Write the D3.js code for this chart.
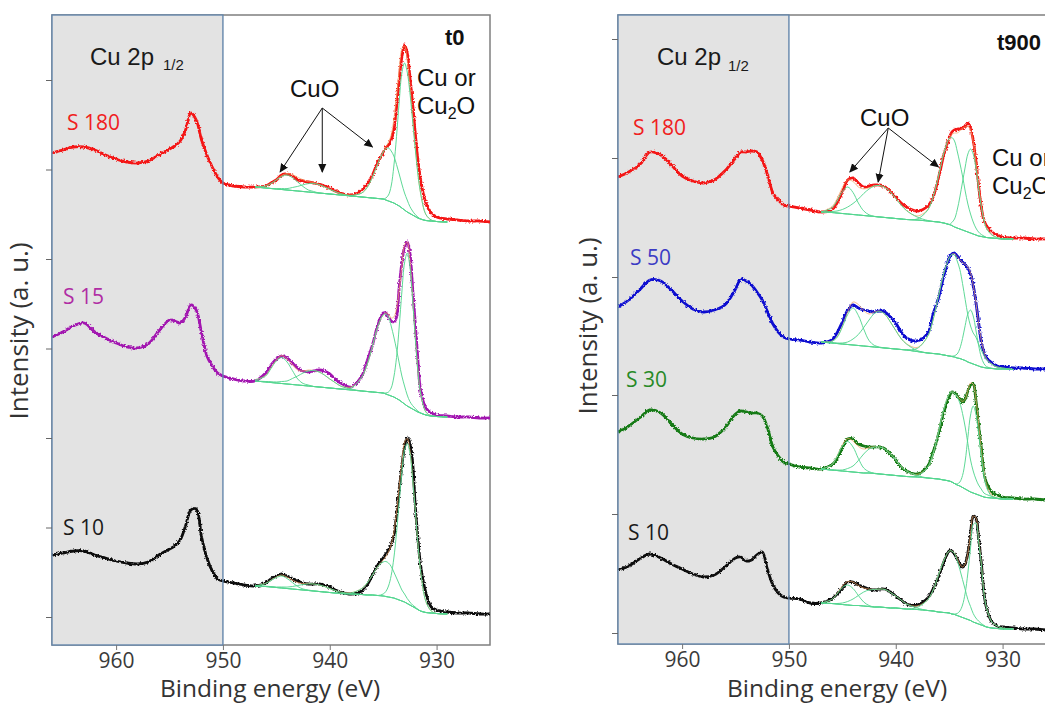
<!DOCTYPE html>
<html><head><meta charset="utf-8">
<script src="https://cdn.jsdelivr.net/npm/d3@7"></script>
<style>body{margin:0;background:#fff}svg{display:block}</style>
</head><body>
<svg id="c" width="1045" height="704"></svg>
<script>
// ---------- energies (eV) ----------
const energies = [966,965,964,963,962,961,960,959,958,957,956,955,954.5,954,953.5,953,952.5,952,951.5,951,950.5,950,949,948,947,946,945.5,945,944.5,944,943.5,943,942.5,942,941.5,941,940.5,940,939.5,939,938,937,936.5,936,935.5,935,934.75,934.5,934.25,934,933.75,933.5,933.25,933,932.75,932.5,932.25,932,931.75,931.5,931,930.5,930,929,928,927,926,925];
const compEnergies = [947,946,945.5,945,944.5,944,943.5,943,942.5,942,941.5,941,940.5,940,939.5,939,938,937,936.5,936,935.5,935,934.75,934.5,934.25,934,933.75,933.5,933.25,933,932.75,932.5,932.25,932,931.75,931.5,931,930.5,930,929];
const energyTicks = [960, 950, 940, 930];
const t0Ticks = [0, 89.5, 179, 268.5, 358, 447.5, 537];
const t900Ticks = [0, 119, 238, 356, 475, 594];

// ---------- measured spectra (a.u., vertically offset) ----------
const t0_S180 = [464,467,470,470,467,462,458,455,454,456,462,468,471,476,487,504,497,477,462,450,440,434,431,430,430,431,434,437,442,443,441,437,436,435,434,433,431,429,426,424,422,427,433,442,455,464,470,472,477,487,510,537,560,572,564,540,514,484,457,437,414,404,400,398,397,396,396,395];
const t0_S15 = [280,285,291,294,285,279,274,270,269,273,286,297,296,294,300,312,307,284,261,251,244,241,238,236,236,244,252,258,261,259,254,249,246,245,246,247,246,243,238,234,230,241,256,272,292,304,304,300,296,295,300,330,354,370,375,364,330,294,257,227,209,204,202,201,200,200,199,199];
const t0_S10 = [62,64,66,66,62,59,56,54,53,55,62,68,71,77,91,107,108,80,59,46,38,36,34,32,31,34,38,41,43,41,38,36,34,33,33,33,32,30,27,25,23,26,32,42,52,59,63,67,73,81,102,127,151,170,179,174,155,112,79,52,24,10,7,5,4,4,3,3];
const t900_S180 = [456,461,468,481,478,468,457,452,450,453,462,475,481,481,482,481,473,458,440,433,428,427,425,423,421,423,430,441,453,455,450,446,447,448,448,446,441,436,430,426,422,427,436,455,478,495,501,503,504,504,505,507,510,505,493,473,448,426,413,407,401,398,396,395,395,394,394,393];
const t900_S50 = [326,333,343,353,352,343,332,324,321,323,328,344,354,352,348,341,333,321,309,301,296,294,293,291,290,293,300,311,323,328,325,323,322,321,322,321,316,310,301,295,292,300,319,335,357,375,379,380,377,374,371,368,365,359,348,331,311,291,281,275,270,267,266,265,265,264,264,263];
const t900_S30 = [201,207,215,223,220,209,199,195,194,196,205,219,222,221,220,220,217,205,186,177,171,169,166,165,164,168,174,185,194,194,189,187,186,186,186,184,179,173,166,162,159,167,181,199,221,236,241,240,237,234,231,234,242,248,249,233,208,186,161,150,141,138,136,135,134,134,133,133];
const t900_S10 = [63,67,74,79,75,69,64,59,56,58,66,75,76,72,73,78,81,63,48,40,36,35,34,30,30,34,39,45,51,51,48,46,44,43,44,44,41,37,33,29,28,35,44,56,71,82,82,79,74,69,66,69,80,99,117,115,95,71,41,25,11,7,6,5,4,4,3,3];

// ---------- fitted components (on compEnergies) ----------
// t0 S180
const bg_t0_S180 = [430,429,428.5,428,427.5,427,426.5,426,425.5,425,424.5,424,423.5,423,422.5,422,421,420,419.5,419,418.5,418,417,416,415,414,412.5,411,409,407,405,403.5,402,400.5,399,398,396.5,396,395.5,395];
const satA_t0_S180 = [0,2,5,9,13,15,13,9,5,2,1,0,0,0,0,0,0,0,0,0,0,0,0,0,0,0,0,0,0,0,0,0,0,0,0,0,0,0,0,0];
const satB_t0_S180 = [0,0,0,0.3,1,1.4,3,4.6,6.7,8.4,9,8.4,6.7,4.6,3,1.4,0.3,0,0,0,0,0,0,0,0,0,0,0,0,0,0,0,0,0,0,0,0,0,0,0];
const cuo_t0_S180 = [0,0,0,0,0,0,0,0,0,0,0,0,0,0,0,0,0.5,4,10,21,35,47,51,53,51,47,40,32,24,17,12,7,4,2,1,0,0,0,0,0];
const cu_t0_S180 = [0,0,0,0,0,0,0,0,0,0,0,0,0,0,0,0,0,0,0,0,0,0,2,6,16,37,68,104,135,147,140,121,95,68,44,26,6,1,0,0];
// t0 S15
const bg_t0_S15 = [236,235,234.5,234,233.5,233,232.5,232,231.5,231,230.5,230,229.5,229,228.5,228,227,226,225.5,225,224.5,224,223,222,221,220,218.5,217,215,213,211,209.5,208,206.5,205,204,202,201,200.5,200];
const satA_t0_S15 = [1,6,14,22,26,22,14,6,2,1,0,0,0,0,0,0,0,0,0,0,0,0,0,0,0,0,0,0,0,0,0,0,0,0,0,0,0,0,0,0];
const satB_t0_S15 = [0,0.5,0.8,1,2,3,6,9,12.5,15,16,15,12.5,9,6,3,1,0,0,0,0,0,0,0,0,0,0,0,0,0,0,0,0,0,0,0,0,0,0,0];
const cuo_t0_S15 = [0,0,0,0,0,0,0,0,0,0,0,0,0,0,0,0,2,14,27,46,66,78,80,78,70,60,49,37,26,18,11,6,3.5,2,1,0,0,0,0,0];
const cu_t0_S15 = [0,0,0,0,0,0,0,0,0,0,0,0,0,0,0,0,0,0,0,0,0,0,1,3,8,20,41,73,110,141,153,141,110,73,41,20,3,0,0,0];
// t0 S10
const bg_t0_S10 = [31,30.5,30,29.5,29,28.5,28,27.5,27,26.5,26,25.5,25,24.5,24,23.5,23,22.5,22,22,21.5,21,20.5,20,19.5,19,18,17,16,15,13.5,12,10.5,9,7.5,6,4.5,4,3.5,3];
const satA_t0_S10 = [0,3,6.5,10,12,10,6.5,3,1,0.5,0,0,0,0,0,0,0,0,0,0,0,0,0,0,0,0,0,0,0,0,0,0,0,0,0,0,0,0,0,0];
const satB_t0_S10 = [0,0.3,0.4,0.5,1,1.4,2.5,4,5.5,6.6,7,6.6,5.5,4,2.5,1.4,0.3,0,0,0,0,0,0,0,0,0,0,0,0,0,0,0,0,0,0,0,0,0,0,0];
const cuo_t0_S10 = [0,0,0,0,0,0,0,0,0,0,0,0,0,0,0,0,1,6,12,20,29,34,35,34,31,26,21,16,11,8,5,3,1.5,1,0,0,0,0,0,0];
const cu_t0_S10 = [0,0,0,0,0,0,0,0,0,0,0,0,0,0,0,0,0,0,0,0,0,2,5,11,22,40,66,98,128,152,160,152,128,98,66,40,11,2,0,0];
// t900 S180
const bg_t900_S180 = [421,420.5,420,419.5,419,418.5,418,417.5,417,416.5,416,415.5,415,414.5,414,413.5,413,412,411.5,411,410,408.5,407.5,406,405,404,403,402,401,400,399,398,397,396.5,396,395.5,395,394.5,394,394];
const satA_t900_S180 = [0,4.6,12,22,27,22,12,4.6,1.2,0.2,0,0,0,0,0,0,0,0,0,0,0,0,0,0,0,0,0,0,0,0,0,0,0,0,0,0,0,0,0,0];
const satB_t900_S180 = [0,1,2,4,7,11,16,22,27,30.5,31.5,30,26,20,14,9,3,0.5,0,0,0,0,0,0,0,0,0,0,0,0,0,0,0,0,0,0,0,0,0,0];
const cuo_t900_S180 = [0,0,0,0,0,0,0,0,0,0,0,0,0,0,0,0,1,11,25,46,70,86,88,86,77,66,54,40,28,19,12,7,4,2,1,0,0,0,0,0];
const cu_t900_S180 = [0,0,0,0,0,0,0,0,0,0,0,0,0,0,0,0,0,0,0,0,0,0,3,8,18,32,48,64,78,84,80,67,48,30,17,9,3,1,0,0];
// t900 S50
const bg_t900_S50 = [291,290,289.5,289,288.5,288,287.5,287,286.5,286,285.5,285,284.5,284,283.5,283,281.5,280,279.5,279,278,277,276.5,276,275,274.5,273.5,272.5,271,270,269,268,267,266,265.5,265,264.5,264,264,263.5];
const satA_t900_S50 = [0,1.6,6,17,30,37,30,17,6,1.6,0.4,0,0,0,0,0,0,0,0,0,0,0,0,0,0,0,0,0,0,0,0,0,0,0,0,0,0,0,0,0];
const satB_t900_S50 = [0,0.3,0.5,1,2.5,6,11,18.5,26.5,33.5,36,33.5,26.5,18.5,11,6,1,0,0,0,0,0,0,0,0,0,0,0,0,0,0,0,0,0,0,0,0,0,0,0];
const cuo_t900_S50 = [0,0,0,0,0,0,0,0,0,0,0,0,0,0,0,0.3,3,17,34,58,82,98,102,102,97,89,76,61,47,37,31,28,22,17,12,8,4,2,1,0];
const cu_t900_S50 = [0,0,0,0,0,0,0,0,0,0,0,0,0,0,0,0,0,0,0,0,0,0,0.3,1.3,4,10,21,35,48,53,48,35,21,10,4,1.3,0.3,0,0,0];
// t900 S30
const bg_t900_S30 = [164,163,162.5,162,161.5,161,160.5,160,160,159.5,159,158.5,158,157.5,157,156.5,156,155,154.5,154,153,152,151,149.5,148,147,145.5,144,142.5,141,140,139,138,137,136,135.5,135,134.5,134,134];
const satA_t900_S30 = [0,5,14,25,30,25,14,5,1.3,0.3,0,0,0,0,0,0,0,0,0,0,0,0,0,0,0,0,0,0,0,0,0,0,0,0,0,0,0,0,0,0];
const satB_t900_S30 = [0,0,0.5,1,3,6,12,19,24,26.5,27,25.5,21,15.5,9.5,5.5,1.5,0,0,0,0,0,0,0,0,0,0,0,0,0,0,0,0,0,0,0,0,0,0,0];
const cuo_t900_S30 = [0,0,0,0,0,0,0,0,0,0,0,0,0,0,0,0,1,11,25,47,71,87,90,90,88,83,74,62,47,32,22,15,10,7,4,3,1.5,0.5,0,0];
const cu_t900_S30 = [0,0,0,0,0,0,0,0,0,0,0,0,0,0,0,0,0,0,0,0,0,0,0,0,1,4,12,28,53,77,87,80,62,40,22,10,1.5,0,0,0];
// t900 S10
const bg_t900_S10 = [30,29.5,29,28.5,28,27.5,27.5,27,26.5,26,26,25.5,25,25,24.5,24,23.5,22.5,22,21,20.5,20,19,18.5,17.5,16.5,15.5,14.5,13.5,12.5,11,10,9,8,7,6,5,4.5,4,4];
const satA_t900_S10 = [0,4,10,17,20,17,10,4,1,0,0,0,0,0,0,0,0,0,0,0,0,0,0,0,0,0,0,0,0,0,0,0,0,0,0,0,0,0,0,0];
const satB_t900_S10 = [0,0,0.5,1.5,3.5,6.5,10,14,16.5,17.5,18,18,15.5,12,8.5,5,1.5,0,0,0,0,0,0,0,0,0,0,0,0,0,0,0,0,0,0,0,0,0,0,0];
const cuo_t900_S10 = [0,0,0,0,0,0,0,0,0,0,0,0,0,0,0,0,2,11,21,37,52,62,63,61,55,47,38,29,20,14,8.5,5,3,1.5,0.7,0,0,0,0,0];
const cu_t900_S10 = [0,0,0,0,0,0,0,0,0,0,0,0,0,0,0,0,0,0,0,0,0,0,0,0.5,2,5.5,12.5,25.5,46.5,72.5,97.5,100,83,61.5,33,19,6,2.5,1,0];

// ---------- build ----------
const svg = d3.select("#c");
const defs = svg.append("defs");
const filt = defs.append("filter").attr("id","rough").attr("x","-5%").attr("y","-5%").attr("width","110%").attr("height","110%");
filt.append("feTurbulence").attr("type","fractalNoise").attr("baseFrequency","0.55").attr("numOctaves",2).attr("seed",7).attr("result","n");
filt.append("feDisplacementMap").attr("in","SourceGraphic").attr("in2","n").attr("scale",3.4).attr("xChannelSelector","R").attr("yChannelSelector","G");
defs.append("marker").attr("id","arr").attr("viewBox","0 0 10 10").attr("refX",9).attr("refY",5)
  .attr("markerWidth",9).attr("markerHeight",9).attr("markerUnits","userSpaceOnUse").attr("orient","auto")
  .append("path").attr("d","M0,0.5 L10,5 L0,9.5 Z").attr("fill","#111");

const panels = [
  { id:"t0", x0:52, x1:490, top:15, bottom:645, yDomain:[-28,602], ticks:t0Ticks, yTitleX:28, yTitleY:331,
    tag:"t0", tagX:445, tagY:45,
    series:[
      {v:t0_S180, c:"#f41414", lc:"#f02020", label:"S 180", lx:67, ly:130, fit:[bg_t0_S180,satA_t0_S180,satB_t0_S180,cuo_t0_S180,cu_t0_S180]},
      {v:t0_S15, c:"#a214b0", lc:"#b02ca4", label:"S 15", lx:63, ly:304, fit:[bg_t0_S15,satA_t0_S15,satB_t0_S15,cuo_t0_S15,cu_t0_S15]},
      {v:t0_S10, c:"#0a0a0a", lc:"#1a1a1a", label:"S 10", lx:63, ly:535, fit:[bg_t0_S10,satA_t0_S10,satB_t0_S10,cuo_t0_S10,cu_t0_S10]}
    ],
    cuoLabel:{x:290, y:97}, arrowFrom:[940.7,509], arrowTo:[[944.65,445],[940.7,445],[936.0,470]],
    cuor:{x:417, y1:86, y2:114}, cu2p:{x:90, y:65, sx:163, sy:70}, xTitleX:270 },
  { id:"t900", x0:618, x1:1056, top:15, bottom:644, yDomain:[-11,618], ticks:t900Ticks, yTitleX:597, yTitleY:326,
    tag:"t900", tagX:997, tagY:50,
    series:[
      {v:t900_S180, c:"#f41414", lc:"#f02020", label:"S 180", lx:633, ly:135, fit:[bg_t900_S180,satA_t900_S180,satB_t900_S180,cuo_t900_S180,cu_t900_S180]},
      {v:t900_S50, c:"#0c0cd0", lc:"#3b3bc4", label:"S 50", lx:630, ly:265, fit:[bg_t900_S50,satA_t900_S50,satB_t900_S50,cuo_t900_S50,cu_t900_S50]},
      {v:t900_S30, c:"#137a13", lc:"#278a27", label:"S 30", lx:626, ly:387, fit:[bg_t900_S30,satA_t900_S30,satB_t900_S30,cuo_t900_S30,cu_t900_S30]},
      {v:t900_S10, c:"#0a0a0a", lc:"#1a1a1a", label:"S 10", lx:628, ly:540, fit:[bg_t900_S10,satA_t900_S10,satB_t900_S10,cuo_t900_S10,cu_t900_S10]}
    ],
    cuoLabel:{x:860, y:126}, arrowFrom:[940.7,505], arrowTo:[[944.3,461],[941.65,451],[936.0,466]],
    cuor:{x:992, y1:166, y2:194}, cu2p:{x:657, y:65, sx:728, sy:71}, xTitleX:837 }
];

const annFont = "'Liberation Sans', Arial, sans-serif";
const uiFont = "'Open Sans', 'DejaVu Sans', sans-serif";

panels.forEach(p => {
  const x = d3.scaleLinear().domain([966, 925]).range([p.x0, p.x1]);
  const y = d3.scaleLinear().domain(p.yDomain).range([p.bottom, p.top]);
  const g = svg.append("g");
  defs.append("clipPath").attr("id","clip-"+p.id).append("rect")
    .attr("x",p.x0).attr("y",p.top).attr("width",p.x1-p.x0).attr("height",p.bottom-p.top);

  // frame
  g.append("rect").attr("x",p.x0).attr("y",p.top).attr("width",p.x1-p.x0).attr("height",p.bottom-p.top)
    .attr("fill","#fff").attr("stroke","#7f7f7f").attr("stroke-width",1.5);
  // Cu 2p1/2 region
  g.append("rect").attr("x",x(966)).attr("y",p.top).attr("width",x(950)-x(966)).attr("height",p.bottom-p.top)
    .attr("fill","#e3e3e3");

  const plot = g.append("g").attr("clip-path","url(#clip-"+p.id+")");
  const line = d3.line().x(d=>x(d[0])).y(d=>y(d[1])).curve(d3.curveCatmullRom.alpha(0.5));

  p.series.forEach(s => {
    plot.append("path").datum(energies.map((e,i)=>[e, s.v[i]]))
      .attr("d", line).attr("fill","none").attr("stroke", s.c).attr("stroke-width",2.8)
      .attr("stroke-linejoin","round").attr("filter","url(#rough)");
  });
  p.series.forEach(s => {
    const [bg, a, b, cuo, cu] = s.fit;
    const env = compEnergies.map((e,i)=>[e, bg[i]+a[i]+b[i]+cuo[i]+cu[i]]);
    plot.append("path").datum(env).attr("d", line).attr("fill","none")
      .attr("stroke","#f0a060").attr("stroke-width",1).attr("opacity",0.7);
    const comps = [bg, a, b, cuo, cu].map((c,k)=> compEnergies.map((e,i)=>[e, k===0 ? bg[i] : bg[i]+c[i]]));
    comps.forEach(cd => {
      plot.append("path").datum(cd).attr("d", line).attr("fill","none")
        .attr("stroke","#55d690").attr("stroke-width",1).attr("opacity",0.95);
    });
  });

  // Cu 2p region border
  g.append("rect").attr("x",x(966)).attr("y",p.top).attr("width",x(950)-x(966)).attr("height",p.bottom-p.top)
    .attr("fill","none").attr("stroke","#6486ab").attr("stroke-width",1.4);

  // axes
  const xa = g.append("g").attr("transform",`translate(0,${p.bottom})`)
    .call(d3.axisBottom(x).tickValues(energyTicks).tickSize(5).tickPadding(3).tickFormat(d3.format("d")));
  xa.select(".domain").remove();
  xa.selectAll("line").attr("stroke","#777");
  xa.selectAll("text").attr("font-family",uiFont).attr("font-size",21).attr("fill","#3a3a3a");
  const ya = g.append("g").attr("transform",`translate(${p.x0},0)`)
    .call(d3.axisLeft(y).tickValues(p.ticks).tickSize(6).tickFormat(""));
  ya.select(".domain").remove();
  ya.selectAll("line").attr("stroke","#666");

  // axis titles
  g.append("text").attr("x",p.xTitleX).attr("y",697).attr("text-anchor","middle")
    .attr("font-family",uiFont).attr("font-size",24.5).attr("fill","#333").text("Binding energy (eV)");
  g.append("text").attr("transform",`translate(${p.yTitleX},${p.yTitleY}) rotate(-90)`).attr("text-anchor","middle")
    .attr("font-family",uiFont).attr("font-size",26).attr("fill","#333").text("Intensity (a. u.)");

  // series labels
  p.series.forEach(s => {
    g.append("text").attr("x",s.lx).attr("y",s.ly).attr("font-family",uiFont).attr("font-size",21)
      .attr("fill",s.lc).text(s.label);
  });

  // annotations
  g.append("text").attr("x",p.cu2p.x).attr("y",p.cu2p.y).attr("font-family",annFont).attr("font-size",24)
    .attr("fill","#1a1a1a").text("Cu 2p");
  g.append("text").attr("x",p.cu2p.sx).attr("y",p.cu2p.sy).attr("font-family",annFont).attr("font-size",15)
    .attr("fill","#1a1a1a").text("1/2");
  g.append("text").attr("x",p.tagX).attr("y",p.tagY).attr("font-family",annFont).attr("font-size",22)
    .attr("font-weight","bold").attr("fill","#111").text(p.tag);
  g.append("text").attr("x",p.cuoLabel.x).attr("y",p.cuoLabel.y).attr("font-family",annFont).attr("font-size",24)
    .attr("fill","#111").text("CuO");
  p.arrowTo.forEach(t => {
    g.append("line").attr("x1",x(p.arrowFrom[0])).attr("y1",y(p.arrowFrom[1]))
      .attr("x2",x(t[0])).attr("y2",y(t[1])).attr("stroke","#111").attr("stroke-width",1)
      .attr("marker-end","url(#arr)");
  });
  g.append("text").attr("x",p.cuor.x).attr("y",p.cuor.y1).attr("font-family",annFont).attr("font-size",24)
    .attr("fill","#111").text("Cu or");
  const t2 = g.append("text").attr("x",p.cuor.x).attr("y",p.cuor.y2).attr("font-family",annFont).attr("font-size",24)
    .attr("fill","#111");
  t2.append("tspan").text("Cu");
  t2.append("tspan").attr("font-size",16).attr("dy",5).text("2");
  t2.append("tspan").attr("dy",-5).text("O");
});
</script>
</body></html>
